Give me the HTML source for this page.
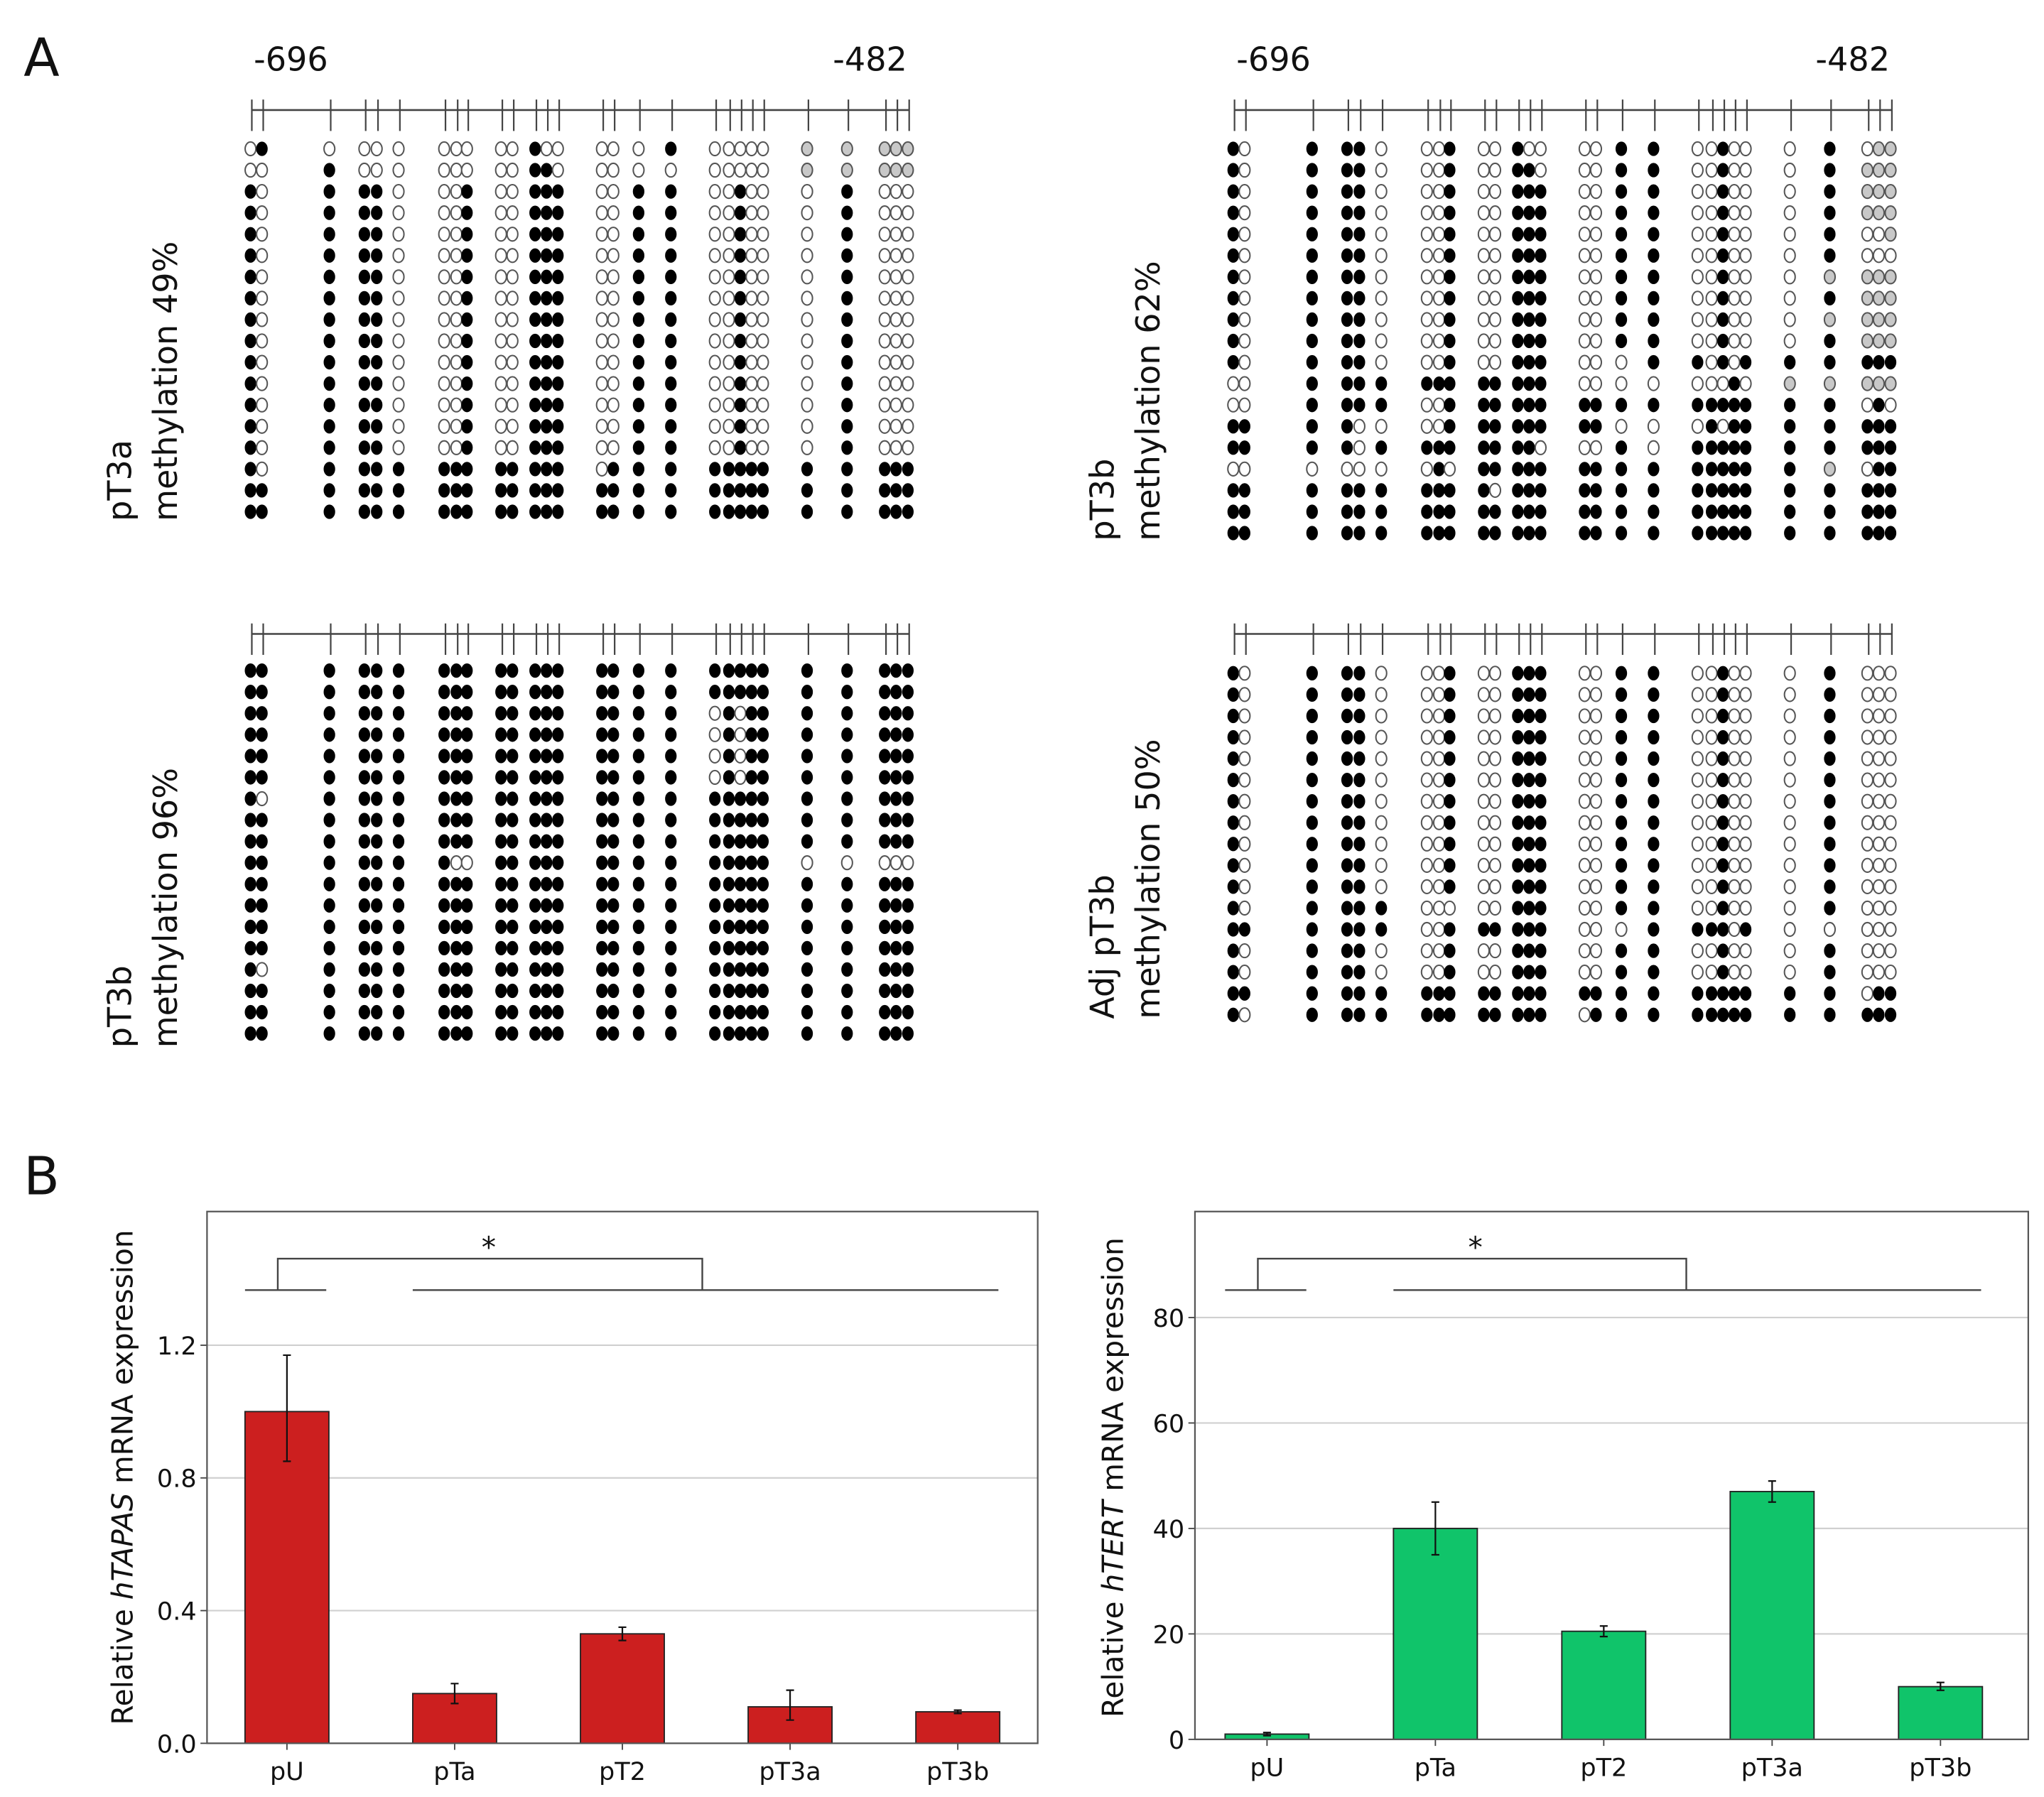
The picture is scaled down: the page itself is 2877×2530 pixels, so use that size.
<!DOCTYPE html>
<html><head><meta charset="utf-8"><style>
html,body{margin:0;padding:0;background:#fff;}
svg{display:block;}
text{font-family:"DejaVu Sans","Liberation Sans",sans-serif;fill:#111;}
</style></head><body>
<svg id="fig" xmlns="http://www.w3.org/2000/svg" width="2877" height="2530" viewBox="0 0 1560 1372" preserveAspectRatio="none">
<text x="18" y="58" font-size="40">A</text>
<text x="18" y="912" font-size="40">B</text>
<g id="panelA"></g>
<g id="chartL"></g>
<g id="chartR"></g>
</svg>
<script>
const NS="http://www.w3.org/2000/svg";
function mk(parent,tag,attrs,txt){const e=document.createElementNS(NS,tag);for(const k in attrs)e.setAttribute(k,attrs[k]);if(txt!==undefined)e.textContent=txt;parent.appendChild(e);return e;}

// CpG site positions (x, relative)
const cpgSites=[192.2,200.9,252.4,279.1,288.5,305.2,340,349.3,357.4,383.4,392.1,409.4,418.1,426.8,460.4,469.1,488.4,513,546.6,557.3,566,574.6,583.3,617,647.5,676.2,684.9,693.9];
const A1="10111000100111001100100010000";
const pT3aRows=[
"0100000000100000100000gggggg".slice(0,28),
"0010000000110000000000gggggg".slice(0,28)
];
// built explicitly (groups 2|1|2|1|3|2|3|2|1|1|5|1|1|3)
const pT3a=[
"01"+"0"+"00"+"0"+"000"+"00"+"100"+"00"+"0"+"1"+"00000"+"g"+"g"+"ggg",
"00"+"1"+"00"+"0"+"000"+"00"+"110"+"00"+"0"+"0"+"00000"+"g"+"g"+"ggg"];
for(let i=0;i<13;i++)pT3a.push("10"+"1"+"11"+"0"+"001"+"00"+"111"+"00"+"1"+"1"+"00100"+"0"+"1"+"000");
pT3a.push("10"+"1"+"11"+"1"+"111"+"11"+"111"+"01"+"1"+"1"+"11111"+"1"+"1"+"111");
pT3a.push("1111111111111111111111111111");
pT3a.push("1111111111111111111111111111");

const base62="10"+"1"+"11"+"0"+"001"+"00"+"111"+"00"+"1"+"1"+"00100"+"0";
const pT3bTop=[
"10"+"1"+"11"+"0"+"001"+"00"+"100"+"00"+"1"+"1"+"00100"+"0"+"1"+"0gg",
"10"+"1"+"11"+"0"+"001"+"00"+"110"+"00"+"1"+"1"+"00100"+"0"+"1"+"ggg",
base62+"1"+"ggg",base62+"1"+"ggg",base62+"1"+"00g",base62+"1"+"000",
base62+"g"+"ggg",base62+"1"+"ggg",base62+"g"+"ggg",base62+"1"+"ggg",
"10"+"1"+"11"+"0"+"001"+"00"+"111"+"00"+"0"+"1"+"10101"+"1"+"1"+"111",
"00"+"1"+"11"+"1"+"111"+"11"+"111"+"00"+"0"+"0"+"00010"+"g"+"g"+"ggg",
"00"+"1"+"11"+"1"+"001"+"11"+"111"+"11"+"1"+"1"+"11111"+"1"+"1"+"010",
"11"+"1"+"10"+"0"+"001"+"11"+"111"+"11"+"0"+"0"+"01011"+"1"+"1"+"111",
"11"+"1"+"10"+"1"+"111"+"11"+"110"+"00"+"1"+"0"+"11111"+"1"+"1"+"111",
"00"+"0"+"00"+"0"+"010"+"11"+"111"+"11"+"1"+"1"+"11111"+"1"+"g"+"011",
"11"+"1"+"11"+"1"+"111"+"10"+"111"+"11"+"1"+"1"+"11111"+"1"+"1"+"111",
"1111111111111111111111111111","1111111111111111111111111111"];

const ALL1="1111111111111111111111111111";
const pT3b96=[ALL1,ALL1,
"11"+"1"+"11"+"1"+"111"+"11"+"111"+"11"+"1"+"1"+"01011"+"1"+"1"+"111",
"11"+"1"+"11"+"1"+"111"+"11"+"111"+"11"+"1"+"1"+"01011"+"1"+"1"+"111",
"11"+"1"+"11"+"1"+"111"+"11"+"111"+"11"+"1"+"1"+"01011"+"1"+"1"+"111",
"11"+"1"+"11"+"1"+"111"+"11"+"111"+"11"+"1"+"1"+"01011"+"1"+"1"+"111",
"10"+"1"+"11"+"1"+"111"+"11"+"111"+"11"+"1"+"1"+"11111"+"1"+"1"+"111",
ALL1,ALL1,
"11"+"1"+"11"+"1"+"100"+"11"+"111"+"11"+"1"+"1"+"11111"+"0"+"0"+"000",
ALL1,ALL1,ALL1,ALL1,
"10"+"1"+"11"+"1"+"111"+"11"+"111"+"11"+"1"+"1"+"11111"+"1"+"1"+"111",
ALL1,ALL1,ALL1];

const adjBase="10"+"1"+"11"+"0"+"001"+"00"+"111"+"00"+"1"+"1"+"00100"+"0"+"1"+"000";
const adjRows=[];
for(let i=0;i<11;i++)adjRows.push(adjBase);
adjRows.push("10"+"1"+"11"+"1"+"000"+"00"+"111"+"00"+"1"+"1"+"00100"+"0"+"1"+"000");
adjRows.push("11"+"1"+"11"+"1"+"001"+"11"+"111"+"00"+"0"+"1"+"11101"+"0"+"0"+"000");
adjRows.push(adjBase);adjRows.push(adjBase);
adjRows.push("11"+"1"+"11"+"1"+"111"+"11"+"111"+"11"+"1"+"1"+"11111"+"1"+"1"+"011");
adjRows.push("10"+"1"+"11"+"1"+"111"+"11"+"111"+"01"+"1"+"1"+"11111"+"1"+"1"+"111");

const panels=[
 {name:"pt3a",dx:0,ry:84,y0:113.6,rows:pT3a,l1:"pT3a",l2:"methylation 49%",lx:100,ly:398,nums:true},
 {name:"pt3b-62",dx:750,ry:84,y0:113.6,rows:pT3bTop,l1:"pT3b",l2:"methylation 62%",lx:850,ly:413,nums:true},
 {name:"pt3b-96",dx:0,ry:484,y0:512,rows:pT3b96,l1:"pT3b",l2:"methylation 96%",lx:100,ly:800,nums:false},
 {name:"adj-pt3b",dx:750,ry:484,y0:514,rows:adjRows,l1:"Adj pT3b",l2:"methylation 50%",lx:850,ly:778,nums:false}];
const pA=document.getElementById('panelA');
panels.forEach(p=>{
 const g=mk(pA,'g',{});
 
 
 const ln=mk(g,'line',{x1:192+p.dx,x2:694+p.dx,y1:p.ry,y2:p.ry,stroke:'#444','stroke-width':1.4});
 
 
 cpgSites.forEach(x=>{mk(g,'line',{x1:x+p.dx,x2:x+p.dx,y1:p.ry-8,y2:p.ry+16,stroke:'#444','stroke-width':1.2});});
 if(p.nums){
  const t1=mk(g,'text',{x:222+p.dx,y:54,'font-size':25,'text-anchor':'middle'},'-696');
  
  
  const t2=mk(g,'text',{x:664+p.dx,y:54,'font-size':25,'text-anchor':'middle'},'-482');
  
  
 }
 p.rows.forEach((r,ri)=>{
  const y=p.y0+ri*16.3;
  for(let i=0;i<28;i++){
   const c=r[i];const x=cpgSites[i]-1+p.dx;
   const fill=c==='1'?'#000':(c==='g'?'#c8c8c8':'#fff');
   const stroke=c==='1'?'#000':'#555';
   const e=mk(g,'ellipse',{cx:x,cy:y,rx:4.1,ry:5.2,fill:fill,stroke:stroke,'stroke-width':c==='1'?0.6:1.1});
   
   
  }
 });
 const l1=mk(g,'text',{x:p.lx,y:p.ly,'font-size':25,transform:`rotate(-90 ${p.lx} ${p.ly})`},p.l1);
 
 
 const l2=mk(g,'text',{x:p.lx+35,y:p.ly,'font-size':25,transform:`rotate(-90 ${p.lx+35} ${p.ly})`},p.l2);
 
 
});

// Bar chart data
const categories=["pU","pTa","pT2","pT3a","pT3b"];
const tapasValues=[1.0,0.15,0.33,0.11,0.095];
const tapasErrLow=[0.85,0.12,0.31,0.07,0.09];
const tapasErrHigh=[1.17,0.18,0.35,0.16,0.10];
const tapasTicks=[0.0,0.4,0.8,1.2];
const tapasTickLabels=["0.0","0.4","0.8","1.2"];
const tertValues=[1,40,20.5,47,10];
const tertErrLow=[0.7,35,19.5,45,9.3];
const tertErrHigh=[1.3,45,21.5,49,10.8];
const tertTicks=[0,20,40,60,80];
const tertTickLabels=["0","20","40","60","80"];

function barChart(gid,o){
 const g=document.getElementById(gid);
 const y=v=>o.y0-(v-0)*(o.y0-o.yTopPix)/o.yMax;
 const x=i=>o.cx0+i*o.step;
 o.ticks.forEach((t,i)=>{
  const gl=mk(g,'line',{x1:o.left,x2:o.right,y1:y(t),y2:y(t),stroke:'#d0d0d0','stroke-width':1.2});
  
  
  mk(g,'line',{x1:o.left-5,x2:o.left,y1:y(t),y2:y(t),stroke:'#444','stroke-width':1});
  const tl=mk(g,'text',{x:o.left-8,y:y(t)+7,'font-size':19,'text-anchor':'end'},o.labels[i]);
  
  
 });
 o.vals.forEach((v,i)=>{
  const b=mk(g,'rect',{x:x(i)-32,y:y(v),width:64,height:o.y0-y(v),fill:o.color,stroke:'#222','stroke-width':1});
  
  
  const e=mk(g,'path',{d:`M${x(i)},${y(o.lo[i])}V${y(o.hi[i])}M${x(i)-3},${y(o.lo[i])}h6M${x(i)-3},${y(o.hi[i])}h6`,stroke:'#111','stroke-width':1.2,fill:'none'});
  
  
  mk(g,'line',{x1:x(i),x2:x(i),y1:o.y0,y2:o.y0+5,stroke:'#444','stroke-width':1});
  const xl=mk(g,'text',{x:x(i),y:o.y0+28,'font-size':19,'text-anchor':'middle'},categories[i]);
  
  
 });
 const fr=mk(g,'rect',{x:o.left,y:o.yTopPix,width:o.right-o.left,height:o.y0-o.yTopPix,fill:'none',stroke:'#555','stroke-width':1.2});
 
 
 // significance bracket
 const br=mk(g,'path',{d:`M${x(0)-32},985H${x(0)+30}M${x(1)-32},985H${x(4)+31}M${x(0)-7},985V961H${o.bx}V985`,stroke:'#444','stroke-width':1.3,fill:'none'});
 
 
 const st=mk(g,'text',{x:o.starX,y:960,'font-size':22,'text-anchor':'middle'},'*');
 
 
 const yl=mk(g,'text',{x:o.ylx,y:1128,'font-size':22,'text-anchor':'middle',transform:`rotate(-90 ${o.ylx} 1128)`});
 
 
 mk(yl,'tspan',{},'Relative ');
 mk(yl,'tspan',{'font-style':'italic'},o.gene);
 mk(yl,'tspan',{},' mRNA expression');
}
barChart('chartL',{left:158,right:792,y0:1331,yTopPix:925,yMax:1.603,cx0:219,step:128,ticks:tapasTicks,labels:tapasTickLabels,vals:tapasValues,lo:tapasErrLow,hi:tapasErrHigh,color:'#cc1f1f',bx:536,starX:373,ylx:101,gene:'hTAPAS'});
barChart('chartR',{left:912,right:1548,y0:1328,yTopPix:925,yMax:100.1,cx0:967,step:128.5,ticks:tertTicks,labels:tertTickLabels,vals:tertValues,lo:tertErrLow,hi:tertErrHigh,color:'#10c46a',bx:1287,starX:1126,ylx:857,gene:'hTERT'});
</script>
</body></html>
